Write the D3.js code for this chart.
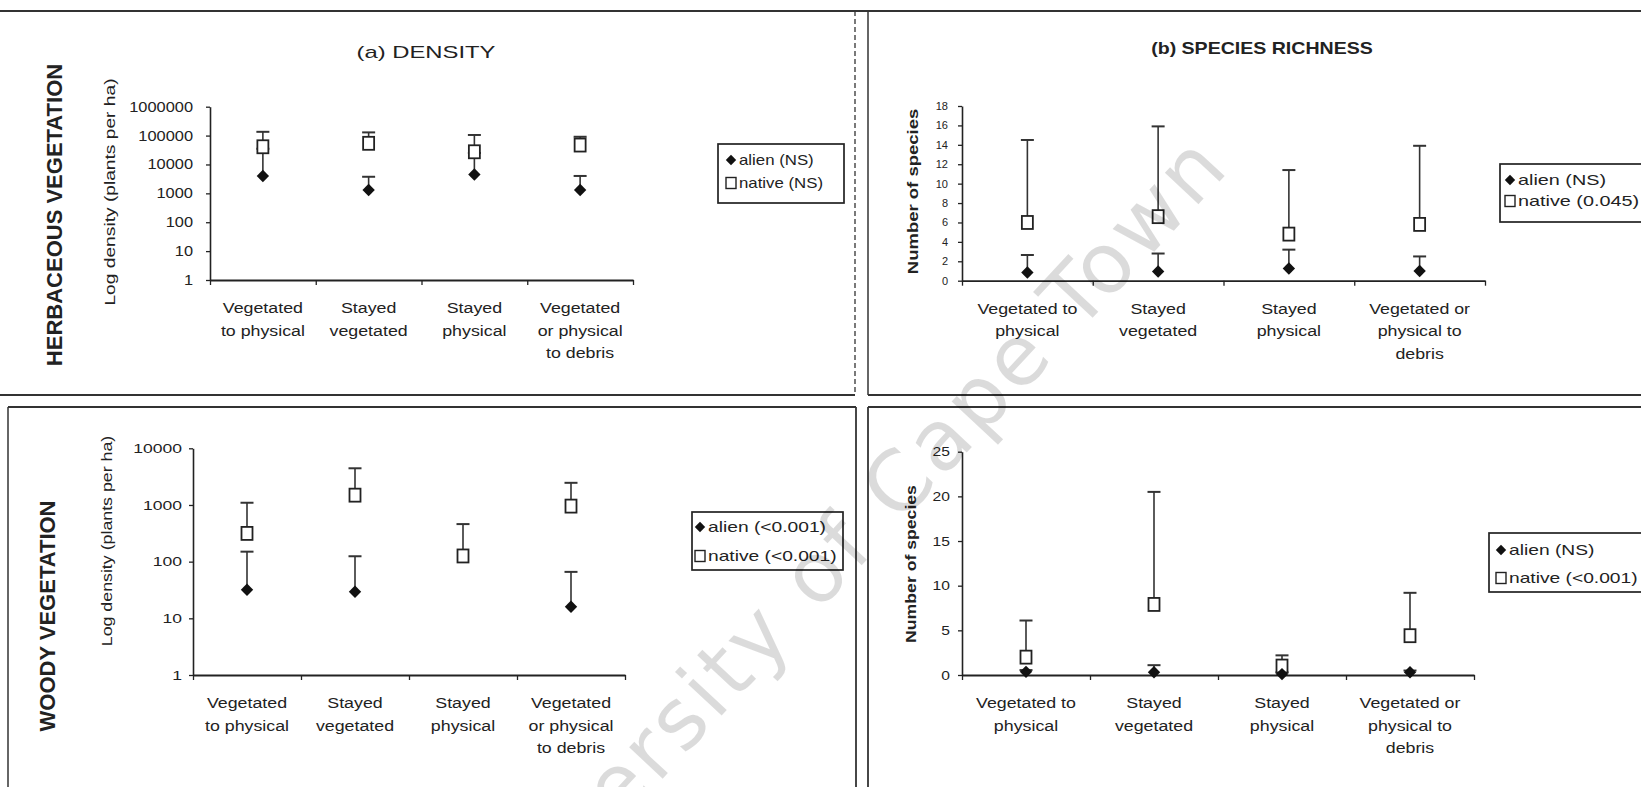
<!DOCTYPE html>
<html>
<head>
<meta charset="utf-8">
<script src="https://cdn.jsdelivr.net/npm/d3@7"></script>
<style>
  html, body { margin: 0; padding: 0; background: #fff; }
  svg { display: block; font-family: "Liberation Sans", Arial, sans-serif; }
</style>
</head>
<body>
<svg id="fig" width="1641" height="787"></svg>
<script>
// ---- Category labels (one entry per line) ----
const densityCategories = [
  ["Vegetated", "to physical"],
  ["Stayed", "vegetated"],
  ["Stayed", "physical"],
  ["Vegetated", "or physical", "to debris"]
];
const richnessCategories = [
  ["Vegetated to", "physical"],
  ["Stayed", "vegetated"],
  ["Stayed", "physical"],
  ["Vegetated or", "physical to", "debris"]
];

// ---- Herbaceous vegetation: density (plants per ha), mean and upper error ----
const herbDensityAlien     = [4000, 1300, 4500, 1300];
const herbDensityAlienErr  = [31000, 2450, 20500, 2700];
const herbDensityNative    = [41000, 54000, 27500, 47000];
const herbDensityNativeErr = [94000, 75000, 77500, 44000];

// ---- Herbaceous vegetation: species richness ----
const herbRichAlien     = [0.85, 0.95, 1.25, 1.0];
const herbRichAlienErr  = [1.8, 1.85, 1.95, 1.5];
const herbRichNative    = [6.0, 6.6, 4.8, 5.8];
const herbRichNativeErr = [8.5, 9.3, 6.6, 8.1];

// ---- Woody vegetation: density (plants per ha) ----
const woodyDensityAlien     = [32, 29.5, null, 16];
const woodyDensityAlienErr  = [118, 95, null, 50];
const woodyDensityNative    = [315, 1490, 126, 955];
const woodyDensityNativeErr = [780, 2950, 334, 1505];

// ---- Woody vegetation: species richness ----
const woodyRichAlien     = [0.35, 0.3, 0.1, 0.3];
const woodyRichAlienErr  = [0.2, 0.8, 0.2, 0.2];
const woodyRichNative    = [2.0, 7.9, 1.0, 4.4];
const woodyRichNativeErr = [4.1, 12.6, 1.2, 4.8];

// ---- Axis ticks ----
const densityTicksHerb  = [1, 10, 100, 1000, 10000, 100000, 1000000];
const densityTicksWoody = [1, 10, 100, 1000, 10000];
const richTicksHerb  = [0, 2, 4, 6, 8, 10, 12, 14, 16, 18];
const richTicksWoody = [0, 5, 10, 15, 20, 25];

// ---- Legend entries ----
const legendA = ["alien (NS)", "native (NS)"];
const legendB = ["alien (NS)", "native (0.045)"];
const legendC = ["alien (<0.001)", "native (<0.001)"];
const legendD = ["alien (NS)", "native (<0.001)"];

const INK = "#222";
const svg = d3.select("#fig");

// stretch a text element along its own direction (the typeface is wide)
function widen(sel, k) {
  sel.each(function () {
    const L = this.getComputedTextLength();
    this.setAttribute("textLength", (L * k).toFixed(1));
    this.setAttribute("lengthAdjust", "spacingAndGlyphs");
  });
  return sel;
}

function diamondPath(r) {
  return `M0,${-r}L${r},0L0,${r}L${-r},0Z`;
}

function drawPanel(cfg) {
  const g = svg.append("g");
  const y = cfg.log
    ? d3.scaleLog().domain(cfg.domain).range([cfg.yBottom, cfg.yTop])
    : d3.scaleLinear().domain(cfg.domain).range([cfg.yBottom, cfg.yTop]);
  const xb = d3.scaleLinear().domain([0, 4]).range([cfg.x0, cfg.x1]);
  const x = d3.scaleBand().domain(d3.range(4)).range([cfg.x0, cfg.x1]);
  const cx = i => x(i) + x.bandwidth() / 2;

  // value axis
  const yAxis = d3.axisLeft(y).tickValues(cfg.ticks).tickFormat(d3.format("d"))
    .tickSizeInner(4).tickSizeOuter(0).tickPadding(cfg.tickPad);
  const ya = g.append("g").attr("transform", `translate(${cfg.x0},0)`).call(yAxis);
  ya.select(".domain").attr("stroke", INK).attr("stroke-width", 1.6);
  ya.selectAll(".tick line").attr("stroke", INK).attr("stroke-width", 1.3);
  ya.selectAll(".tick text").attr("fill", INK).attr("font-size", cfg.tickFont)
    .attr("font-family", "Liberation Sans, Arial, sans-serif")
    .call(widen, cfg.tickWiden);

  // category axis with ticks between categories
  const xAxis = d3.axisBottom(xb).tickValues(d3.range(5)).tickFormat("")
    .tickSizeInner(5).tickSizeOuter(0);
  const xa = g.append("g").attr("transform", `translate(0,${cfg.yBottom})`).call(xAxis);
  xa.select(".domain").attr("stroke", INK).attr("stroke-width", 1.8);
  xa.selectAll(".tick line").attr("stroke", INK).attr("stroke-width", 1.3);

  // category labels
  cfg.categories.forEach((lines, i) => {
    lines.forEach((ln, j) => {
      g.append("text").attr("x", cx(i)).attr("y", cfg.yBottom + 33 + j * 22.5)
        .attr("text-anchor", "middle").attr("font-size", 14).attr("fill", INK)
        .text(ln).call(widen, 1.27);
    });
  });

  // error bars (upper only), drawn beneath markers
  const cap = 6.5;
  const series = [
    { v: cfg.alien, e: cfg.alienErr },
    { v: cfg.native, e: cfg.nativeErr }
  ];
  series.forEach(s => {
    s.v.forEach((v, i) => {
      if (v == null || s.e[i] == null) return;
      const yv = y(v), ye = y(v + s.e[i]);
      g.append("line").attr("x1", cx(i)).attr("x2", cx(i)).attr("y1", yv).attr("y2", ye)
        .attr("stroke", "#333").attr("stroke-width", 1.6);
      g.append("line").attr("x1", cx(i) - cap).attr("x2", cx(i) + cap).attr("y1", ye).attr("y2", ye)
        .attr("stroke", "#333").attr("stroke-width", 2);
    });
  });

  // native: open squares
  cfg.native.forEach((v, i) => {
    if (v == null) return;
    g.append("rect").attr("x", cx(i) - 5.5).attr("y", y(v) - 6.5).attr("width", 11).attr("height", 13)
      .attr("fill", "#fff").attr("stroke", "#222").attr("stroke-width", 1.8);
  });
  // alien: filled diamonds
  cfg.alien.forEach((v, i) => {
    if (v == null) return;
    g.append("path").attr("d", diamondPath(6.2)).attr("transform", `translate(${cx(i)},${y(v)})`)
      .attr("fill", "#111");
  });

  // legend
  const L = cfg.legend;
  g.append("rect").attr("x", L.x).attr("y", L.y).attr("width", L.w).attr("height", L.h)
    .attr("fill", "#fff").attr("stroke", "#222").attr("stroke-width", 1.7);
  L.rows.forEach((ry, k) => {
    const mx = L.x + L.mark;
    if (k === 0) {
      g.append("path").attr("d", diamondPath(5.2)).attr("transform", `translate(${mx},${ry})`).attr("fill", "#111");
    } else {
      g.append("rect").attr("x", mx - 5).attr("y", ry - 5.5).attr("width", 10).attr("height", 11)
        .attr("fill", "#fff").attr("stroke", "#222").attr("stroke-width", 1.4);
    }
    g.append("text").attr("x", mx + 8).attr("y", ry).attr("dy", "0.36em")
      .attr("font-size", 15).attr("fill", INK).text(cfg.legendText[k]).call(widen, L.widen);
  });

  // value-axis title
  g.append("text")
    .attr("transform", `translate(${cfg.titleX},${cfg.titleY}) rotate(-90)`)
    .attr("text-anchor", "middle").attr("dy", "0.35em")
    .attr("font-size", 14).attr("font-weight", cfg.titleBold ? "bold" : "normal").attr("fill", INK)
    .text(cfg.yTitle).call(widen, cfg.titleWiden);
}

// ---- frames around the four panels ----
const frame = svg.append("g").attr("stroke", "#333").attr("fill", "none");
frame.append("line").attr("x1", 0).attr("x2", 1641).attr("y1", 11).attr("y2", 11).attr("stroke-width", 2);
frame.append("line").attr("x1", 855).attr("x2", 855).attr("y1", 11).attr("y2", 395)
  .attr("stroke-width", 1.3).attr("stroke-dasharray", "5,3");
frame.append("line").attr("x1", 0).attr("x2", 855).attr("y1", 395).attr("y2", 395).attr("stroke-width", 2);
frame.append("line").attr("x1", 868).attr("x2", 1641).attr("y1", 395).attr("y2", 395).attr("stroke-width", 2);
frame.append("line").attr("x1", 868).attr("x2", 868).attr("y1", 11).attr("y2", 395).attr("stroke-width", 1.5);
frame.append("line").attr("x1", 8).attr("x2", 856).attr("y1", 407).attr("y2", 407).attr("stroke-width", 2);
frame.append("line").attr("x1", 868).attr("x2", 1641).attr("y1", 407).attr("y2", 407).attr("stroke-width", 2);
frame.append("line").attr("x1", 8).attr("x2", 8).attr("y1", 407).attr("y2", 787).attr("stroke-width", 1.5);
frame.append("line").attr("x1", 856).attr("x2", 856).attr("y1", 407).attr("y2", 787).attr("stroke-width", 1.8);
frame.append("line").attr("x1", 868).attr("x2", 868).attr("y1", 407).attr("y2", 787).attr("stroke-width", 1.8);

// ---- row labels and chart titles ----
svg.append("text").attr("transform", "translate(54,215) rotate(-90)").attr("text-anchor", "middle")
  .attr("dy", "0.35em").attr("font-size", 22).attr("font-weight", "bold").attr("fill", INK)
  .text("HERBACEOUS VEGETATION");
svg.append("text").attr("transform", "translate(47,616) rotate(-90)").attr("text-anchor", "middle")
  .attr("dy", "0.35em").attr("font-size", 22).attr("font-weight", "bold").attr("fill", INK)
  .text("WOODY VEGETATION");
svg.append("text").attr("x", 426).attr("y", 57.5).attr("text-anchor", "middle")
  .attr("font-size", 17).attr("fill", INK).text("(a) DENSITY").call(widen, 1.4);
svg.append("text").attr("x", 1262).attr("y", 54).attr("text-anchor", "middle")
  .attr("font-size", 17).attr("font-weight", "bold").attr("fill", INK)
  .text("(b) SPECIES RICHNESS").call(widen, 1.15);

// ---- (a) herbaceous density ----
drawPanel({
  log: true, domain: [1, 1000000], ticks: densityTicksHerb,
  x0: 210, x1: 633, yTop: 106.7, yBottom: 280,
  tickPad: 13, tickFont: 14, tickWiden: 1.17,
  categories: densityCategories,
  alien: herbDensityAlien, alienErr: herbDensityAlienErr,
  native: herbDensityNative, nativeErr: herbDensityNativeErr,
  legend: { x: 718, y: 144, w: 126, h: 59, rows: [160, 183], mark: 13, widen: 1.12 }, legendText: legendA,
  yTitle: "Log density (plants per ha)", titleX: 110, titleY: 192, titleWiden: 1.37, titleBold: false
});

// ---- (b) herbaceous species richness ----
drawPanel({
  log: false, domain: [0, 18], ticks: richTicksHerb,
  x0: 962, x1: 1485, yTop: 106, yBottom: 280.7,
  tickPad: 10, tickFont: 11, tickWiden: 1.0,
  categories: richnessCategories,
  alien: herbRichAlien, alienErr: herbRichAlienErr,
  native: herbRichNative, nativeErr: herbRichNativeErr,
  legend: { x: 1500, y: 164, w: 150, h: 58, rows: [180, 201], mark: 10, widen: 1.32 }, legendText: legendB,
  yTitle: "Number of species", titleX: 913, titleY: 191.5, titleWiden: 1.32, titleBold: true
});

// ---- (a) woody density ----
drawPanel({
  log: true, domain: [1, 10000], ticks: densityTicksWoody,
  x0: 193, x1: 625, yTop: 448.3, yBottom: 675,
  tickPad: 7, tickFont: 13, tickWiden: 1.35,
  categories: densityCategories,
  alien: woodyDensityAlien, alienErr: woodyDensityAlienErr,
  native: woodyDensityNative, nativeErr: woodyDensityNativeErr,
  legend: { x: 692, y: 512, w: 151, h: 58, rows: [527, 556], mark: 8, widen: 1.28 }, legendText: legendC,
  yTitle: "Log density (plants per ha)", titleX: 107, titleY: 541, titleWiden: 1.27, titleBold: false
});

// ---- (b) woody species richness ----
drawPanel({
  log: false, domain: [0, 25], ticks: richTicksWoody,
  x0: 962, x1: 1474, yTop: 451.7, yBottom: 675,
  tickPad: 8, tickFont: 13, tickWiden: 1.2,
  categories: richnessCategories,
  alien: woodyRichAlien, alienErr: woodyRichAlienErr,
  native: woodyRichNative, nativeErr: woodyRichNativeErr,
  legend: { x: 1489, y: 533, w: 170, h: 59, rows: [550, 578], mark: 12, widen: 1.28 }, legendText: legendD,
  yTitle: "Number of species", titleX: 911, titleY: 564, titleWiden: 1.26, titleBold: true
});

// ---- repository watermark running diagonally across the figure ----
svg.append("text").attr("transform", "translate(459,954) rotate(-47)")
  .attr("dy", "0.35em").attr("font-size", 84).attr("letter-spacing", 4)
  .attr("font-family", "DejaVu Sans, Verdana, sans-serif")
  .attr("fill", "#000").attr("fill-opacity", 0.14)
  .text("University of Cape Town");
</script>
</body>
</html>
